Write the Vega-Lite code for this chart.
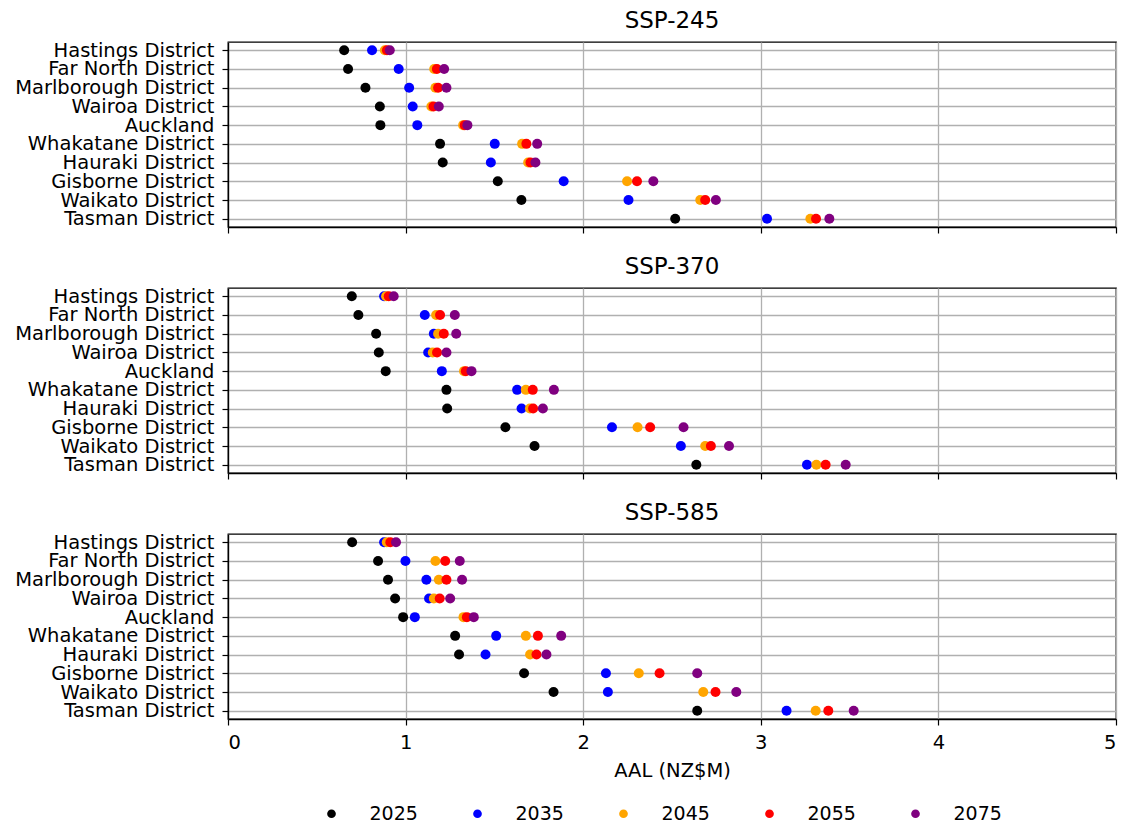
{
"$schema": "https://vega.github.io/schema/vega-lite/v6.json",
"padding": {"left": 13, "top": 9, "right": 5, "bottom": 5},
"background": "white",
"config": {
  "font": "DejaVu Sans",
  "view": {"stroke": "black", "strokeWidth": 1.3},
  "axis": {"gridColor": "#b0b0b0", "gridWidth": 1.3, "gridOpacity": 1, "domain": true, "domainColor": "black", "domainWidth": 1.3, "tickColor": "black", "tickSize": 6, "tickWidth": 1.2, "labelFontSize": 19.5, "labelColor": "black", "labelLimit": 0, "titleFontSize": 19.5, "titleFontWeight": "normal", "titleColor": "black", "labelPadding": 8},
  "title": {"fontSize": 23, "fontWeight": "normal", "color": "black", "offset": 7},
  "legend": {"orient": "none", "legendX": 94, "legendY": 762, "direction": "horizontal", "symbolType": "circle", "symbolSize": 75, "symbolStrokeWidth": 0, "labelFontSize": 19, "labelColor": "black", "labelOffset": 28.5, "columnPadding": 50}
},
"data": {"values": [
{"ssp":"SSP-245","district":"Hastings District","year":"2025","aal":0.654},
{"ssp":"SSP-245","district":"Hastings District","year":"2035","aal":0.811},
{"ssp":"SSP-245","district":"Hastings District","year":"2045","aal":0.883},
{"ssp":"SSP-245","district":"Hastings District","year":"2055","aal":0.895},
{"ssp":"SSP-245","district":"Hastings District","year":"2075","aal":0.911},
{"ssp":"SSP-245","district":"Far North District","year":"2025","aal":0.676},
{"ssp":"SSP-245","district":"Far North District","year":"2035","aal":0.961},
{"ssp":"SSP-245","district":"Far North District","year":"2045","aal":1.161},
{"ssp":"SSP-245","district":"Far North District","year":"2055","aal":1.176},
{"ssp":"SSP-245","district":"Far North District","year":"2075","aal":1.217},
{"ssp":"SSP-245","district":"Marlborough District","year":"2025","aal":0.774},
{"ssp":"SSP-245","district":"Marlborough District","year":"2035","aal":1.02},
{"ssp":"SSP-245","district":"Marlborough District","year":"2045","aal":1.168},
{"ssp":"SSP-245","district":"Marlborough District","year":"2055","aal":1.183},
{"ssp":"SSP-245","district":"Marlborough District","year":"2075","aal":1.23},
{"ssp":"SSP-245","district":"Wairoa District","year":"2025","aal":0.855},
{"ssp":"SSP-245","district":"Wairoa District","year":"2035","aal":1.04},
{"ssp":"SSP-245","district":"Wairoa District","year":"2045","aal":1.145},
{"ssp":"SSP-245","district":"Wairoa District","year":"2055","aal":1.157},
{"ssp":"SSP-245","district":"Wairoa District","year":"2075","aal":1.187},
{"ssp":"SSP-245","district":"Auckland","year":"2025","aal":0.858},
{"ssp":"SSP-245","district":"Auckland","year":"2035","aal":1.066},
{"ssp":"SSP-245","district":"Auckland","year":"2045","aal":1.324},
{"ssp":"SSP-245","district":"Auckland","year":"2055","aal":1.333},
{"ssp":"SSP-245","district":"Auckland","year":"2075","aal":1.348},
{"ssp":"SSP-245","district":"Whakatane District","year":"2025","aal":1.194},
{"ssp":"SSP-245","district":"Whakatane District","year":"2035","aal":1.502},
{"ssp":"SSP-245","district":"Whakatane District","year":"2045","aal":1.656},
{"ssp":"SSP-245","district":"Whakatane District","year":"2055","aal":1.68},
{"ssp":"SSP-245","district":"Whakatane District","year":"2075","aal":1.741},
{"ssp":"SSP-245","district":"Hauraki District","year":"2025","aal":1.209},
{"ssp":"SSP-245","district":"Hauraki District","year":"2035","aal":1.48},
{"ssp":"SSP-245","district":"Hauraki District","year":"2045","aal":1.69},
{"ssp":"SSP-245","district":"Hauraki District","year":"2055","aal":1.703},
{"ssp":"SSP-245","district":"Hauraki District","year":"2075","aal":1.731},
{"ssp":"SSP-245","district":"Gisborne District","year":"2025","aal":1.519},
{"ssp":"SSP-245","district":"Gisborne District","year":"2035","aal":1.89},
{"ssp":"SSP-245","district":"Gisborne District","year":"2045","aal":2.247},
{"ssp":"SSP-245","district":"Gisborne District","year":"2055","aal":2.303},
{"ssp":"SSP-245","district":"Gisborne District","year":"2075","aal":2.395},
{"ssp":"SSP-245","district":"Waikato District","year":"2025","aal":1.652},
{"ssp":"SSP-245","district":"Waikato District","year":"2035","aal":2.255},
{"ssp":"SSP-245","district":"Waikato District","year":"2045","aal":2.659},
{"ssp":"SSP-245","district":"Waikato District","year":"2055","aal":2.687},
{"ssp":"SSP-245","district":"Waikato District","year":"2075","aal":2.747},
{"ssp":"SSP-245","district":"Tasman District","year":"2025","aal":2.518},
{"ssp":"SSP-245","district":"Tasman District","year":"2035","aal":3.035},
{"ssp":"SSP-245","district":"Tasman District","year":"2045","aal":3.279},
{"ssp":"SSP-245","district":"Tasman District","year":"2055","aal":3.311},
{"ssp":"SSP-245","district":"Tasman District","year":"2075","aal":3.386},
{"ssp":"SSP-370","district":"Hastings District","year":"2025","aal":0.697},
{"ssp":"SSP-370","district":"Hastings District","year":"2035","aal":0.879},
{"ssp":"SSP-370","district":"Hastings District","year":"2045","aal":0.89},
{"ssp":"SSP-370","district":"Hastings District","year":"2055","aal":0.905},
{"ssp":"SSP-370","district":"Hastings District","year":"2075","aal":0.933},
{"ssp":"SSP-370","district":"Far North District","year":"2025","aal":0.734},
{"ssp":"SSP-370","district":"Far North District","year":"2035","aal":1.108},
{"ssp":"SSP-370","district":"Far North District","year":"2045","aal":1.172},
{"ssp":"SSP-370","district":"Far North District","year":"2055","aal":1.194},
{"ssp":"SSP-370","district":"Far North District","year":"2075","aal":1.277},
{"ssp":"SSP-370","district":"Marlborough District","year":"2025","aal":0.834},
{"ssp":"SSP-370","district":"Marlborough District","year":"2035","aal":1.159},
{"ssp":"SSP-370","district":"Marlborough District","year":"2045","aal":1.183},
{"ssp":"SSP-370","district":"Marlborough District","year":"2055","aal":1.215},
{"ssp":"SSP-370","district":"Marlborough District","year":"2075","aal":1.285},
{"ssp":"SSP-370","district":"Wairoa District","year":"2025","aal":0.849},
{"ssp":"SSP-370","district":"Wairoa District","year":"2035","aal":1.127},
{"ssp":"SSP-370","district":"Wairoa District","year":"2045","aal":1.153},
{"ssp":"SSP-370","district":"Wairoa District","year":"2055","aal":1.177},
{"ssp":"SSP-370","district":"Wairoa District","year":"2075","aal":1.23},
{"ssp":"SSP-370","district":"Auckland","year":"2025","aal":0.888},
{"ssp":"SSP-370","district":"Auckland","year":"2035","aal":1.204},
{"ssp":"SSP-370","district":"Auckland","year":"2045","aal":1.329},
{"ssp":"SSP-370","district":"Auckland","year":"2055","aal":1.339},
{"ssp":"SSP-370","district":"Auckland","year":"2075","aal":1.371},
{"ssp":"SSP-370","district":"Whakatane District","year":"2025","aal":1.23},
{"ssp":"SSP-370","district":"Whakatane District","year":"2035","aal":1.628},
{"ssp":"SSP-370","district":"Whakatane District","year":"2045","aal":1.677},
{"ssp":"SSP-370","district":"Whakatane District","year":"2055","aal":1.716},
{"ssp":"SSP-370","district":"Whakatane District","year":"2075","aal":1.835},
{"ssp":"SSP-370","district":"Hauraki District","year":"2025","aal":1.234},
{"ssp":"SSP-370","district":"Hauraki District","year":"2035","aal":1.653},
{"ssp":"SSP-370","district":"Hauraki District","year":"2045","aal":1.7},
{"ssp":"SSP-370","district":"Hauraki District","year":"2055","aal":1.718},
{"ssp":"SSP-370","district":"Hauraki District","year":"2075","aal":1.773},
{"ssp":"SSP-370","district":"Gisborne District","year":"2025","aal":1.562},
{"ssp":"SSP-370","district":"Gisborne District","year":"2035","aal":2.162},
{"ssp":"SSP-370","district":"Gisborne District","year":"2045","aal":2.306},
{"ssp":"SSP-370","district":"Gisborne District","year":"2055","aal":2.377},
{"ssp":"SSP-370","district":"Gisborne District","year":"2075","aal":2.565},
{"ssp":"SSP-370","district":"Waikato District","year":"2025","aal":1.726},
{"ssp":"SSP-370","district":"Waikato District","year":"2035","aal":2.55},
{"ssp":"SSP-370","district":"Waikato District","year":"2045","aal":2.687},
{"ssp":"SSP-370","district":"Waikato District","year":"2055","aal":2.719},
{"ssp":"SSP-370","district":"Waikato District","year":"2075","aal":2.821},
{"ssp":"SSP-370","district":"Tasman District","year":"2025","aal":2.637},
{"ssp":"SSP-370","district":"Tasman District","year":"2035","aal":3.26},
{"ssp":"SSP-370","district":"Tasman District","year":"2045","aal":3.313},
{"ssp":"SSP-370","district":"Tasman District","year":"2055","aal":3.365},
{"ssp":"SSP-370","district":"Tasman District","year":"2075","aal":3.478},
{"ssp":"SSP-585","district":"Hastings District","year":"2025","aal":0.699},
{"ssp":"SSP-585","district":"Hastings District","year":"2035","aal":0.879},
{"ssp":"SSP-585","district":"Hastings District","year":"2045","aal":0.894},
{"ssp":"SSP-585","district":"Hastings District","year":"2055","aal":0.914},
{"ssp":"SSP-585","district":"Hastings District","year":"2075","aal":0.946},
{"ssp":"SSP-585","district":"Far North District","year":"2025","aal":0.845},
{"ssp":"SSP-585","district":"Far North District","year":"2035","aal":0.999},
{"ssp":"SSP-585","district":"Far North District","year":"2045","aal":1.168},
{"ssp":"SSP-585","district":"Far North District","year":"2055","aal":1.223},
{"ssp":"SSP-585","district":"Far North District","year":"2075","aal":1.305},
{"ssp":"SSP-585","district":"Marlborough District","year":"2025","aal":0.901},
{"ssp":"SSP-585","district":"Marlborough District","year":"2035","aal":1.117},
{"ssp":"SSP-585","district":"Marlborough District","year":"2045","aal":1.187},
{"ssp":"SSP-585","district":"Marlborough District","year":"2055","aal":1.23},
{"ssp":"SSP-585","district":"Marlborough District","year":"2075","aal":1.318},
{"ssp":"SSP-585","district":"Wairoa District","year":"2025","aal":0.941},
{"ssp":"SSP-585","district":"Wairoa District","year":"2035","aal":1.132},
{"ssp":"SSP-585","district":"Wairoa District","year":"2045","aal":1.159},
{"ssp":"SSP-585","district":"Wairoa District","year":"2055","aal":1.192},
{"ssp":"SSP-585","district":"Wairoa District","year":"2075","aal":1.251},
{"ssp":"SSP-585","district":"Auckland","year":"2025","aal":0.986},
{"ssp":"SSP-585","district":"Auckland","year":"2035","aal":1.052},
{"ssp":"SSP-585","district":"Auckland","year":"2045","aal":1.326},
{"ssp":"SSP-585","district":"Auckland","year":"2055","aal":1.345},
{"ssp":"SSP-585","district":"Auckland","year":"2075","aal":1.384},
{"ssp":"SSP-585","district":"Whakatane District","year":"2025","aal":1.279},
{"ssp":"SSP-585","district":"Whakatane District","year":"2035","aal":1.51},
{"ssp":"SSP-585","district":"Whakatane District","year":"2045","aal":1.677},
{"ssp":"SSP-585","district":"Whakatane District","year":"2055","aal":1.745},
{"ssp":"SSP-585","district":"Whakatane District","year":"2075","aal":1.876},
{"ssp":"SSP-585","district":"Hauraki District","year":"2025","aal":1.301},
{"ssp":"SSP-585","district":"Hauraki District","year":"2035","aal":1.45},
{"ssp":"SSP-585","district":"Hauraki District","year":"2045","aal":1.701},
{"ssp":"SSP-585","district":"Hauraki District","year":"2055","aal":1.737},
{"ssp":"SSP-585","district":"Hauraki District","year":"2075","aal":1.793},
{"ssp":"SSP-585","district":"Gisborne District","year":"2025","aal":1.667},
{"ssp":"SSP-585","district":"Gisborne District","year":"2035","aal":2.128},
{"ssp":"SSP-585","district":"Gisborne District","year":"2045","aal":2.313},
{"ssp":"SSP-585","district":"Gisborne District","year":"2055","aal":2.43},
{"ssp":"SSP-585","district":"Gisborne District","year":"2075","aal":2.642},
{"ssp":"SSP-585","district":"Waikato District","year":"2025","aal":1.833},
{"ssp":"SSP-585","district":"Waikato District","year":"2035","aal":2.139},
{"ssp":"SSP-585","district":"Waikato District","year":"2045","aal":2.676},
{"ssp":"SSP-585","district":"Waikato District","year":"2055","aal":2.745},
{"ssp":"SSP-585","district":"Waikato District","year":"2075","aal":2.862},
{"ssp":"SSP-585","district":"Tasman District","year":"2025","aal":2.642},
{"ssp":"SSP-585","district":"Tasman District","year":"2035","aal":3.145},
{"ssp":"SSP-585","district":"Tasman District","year":"2045","aal":3.309},
{"ssp":"SSP-585","district":"Tasman District","year":"2055","aal":3.38},
{"ssp":"SSP-585","district":"Tasman District","year":"2075","aal":3.523}
]},
"spacing": 20,
"vconcat": [
  {
    "title": "SSP-245",
    "width": 888, "height": 185,
    "transform": [{"filter": "datum.ssp === 'SSP-245'"}],
    "mark": {"type": "circle", "size": 100, "opacity": 1},
    "encoding": {
      "x": {"field": "aal", "type": "quantitative", "scale": {"domain": [0, 5], "nice": false}, "axis": {"values": [0,1,2,3,4,5], "labels": false, "title": null}},
      "y": {"field": "district", "type": "nominal", "sort": ["Hastings District","Far North District","Marlborough District","Wairoa District","Auckland","Whakatane District","Hauraki District","Gisborne District","Waikato District","Tasman District"], "scale": {"padding": 0.44}, "axis": {"title": null, "grid": true}},
      "color": {"field": "year", "type": "nominal", "scale": {"domain": ["2025","2035","2045","2055","2075"], "range": ["black","blue","orange","red","purple"]}, "legend": {"title": null}}
    }
  },
  {
    "title": "SSP-370",
    "width": 888, "height": 185,
    "transform": [{"filter": "datum.ssp === 'SSP-370'"}],
    "mark": {"type": "circle", "size": 100, "opacity": 1},
    "encoding": {
      "x": {"field": "aal", "type": "quantitative", "scale": {"domain": [0, 5], "nice": false}, "axis": {"values": [0,1,2,3,4,5], "labels": false, "title": null}},
      "y": {"field": "district", "type": "nominal", "sort": ["Hastings District","Far North District","Marlborough District","Wairoa District","Auckland","Whakatane District","Hauraki District","Gisborne District","Waikato District","Tasman District"], "scale": {"padding": 0.44}, "axis": {"title": null, "grid": true}},
      "color": {"field": "year", "type": "nominal", "scale": {"domain": ["2025","2035","2045","2055","2075"], "range": ["black","blue","orange","red","purple"]}, "legend": {"title": null}}
    }
  },
  {
    "title": "SSP-585",
    "width": 888, "height": 185,
    "transform": [{"filter": "datum.ssp === 'SSP-585'"}],
    "mark": {"type": "circle", "size": 100, "opacity": 1},
    "encoding": {
      "x": {"field": "aal", "type": "quantitative", "scale": {"domain": [0, 5], "nice": false}, "axis": {"values": [0,1,2,3,4,5], "title": "AAL (NZ$M)", "titlePadding": 10}},
      "y": {"field": "district", "type": "nominal", "sort": ["Hastings District","Far North District","Marlborough District","Wairoa District","Auckland","Whakatane District","Hauraki District","Gisborne District","Waikato District","Tasman District"], "scale": {"padding": 0.44}, "axis": {"title": null, "grid": true}},
      "color": {"field": "year", "type": "nominal", "scale": {"domain": ["2025","2035","2045","2055","2075"], "range": ["black","blue","orange","red","purple"]}, "legend": {"title": null}}
    }
  }
]
}
